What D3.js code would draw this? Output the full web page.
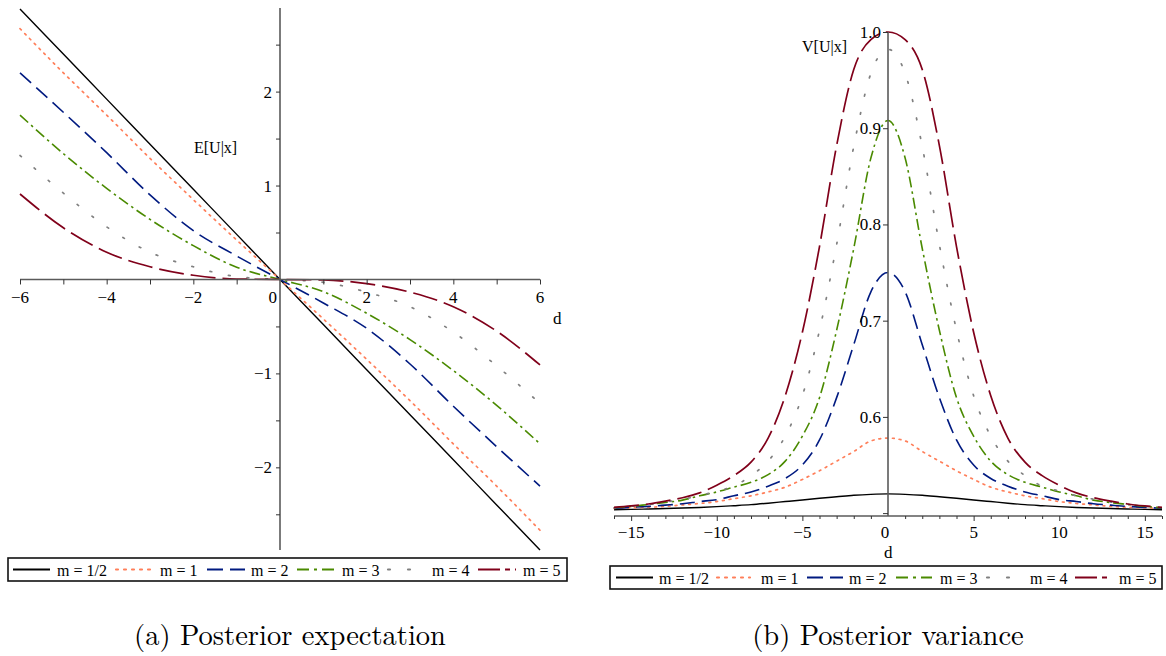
<!DOCTYPE html>
<html><head><meta charset="utf-8">
<script src="https://cdn.jsdelivr.net/npm/d3@7"></script>
<style>
html,body{margin:0;padding:0;background:#fff;}
</style></head>
<body><svg id="c" width="1166" height="656"></svg>
<script>
// ---------- data ----------
const legendLabels = ["m = 1/2","m = 1","m = 2","m = 3","m = 4","m = 5"];
const seriesColors = ["#000000","#ff7f5a","#001a80","#4a8a00","#808080","#80001a"];

// Posterior expectation E[U|x] vs d
const dE = [-6,-5,-4,-3,-2,-1,0,1,2,3,4,5,6];
const E_m05 = [2.88,2.40,1.92,1.44,0.96,0.48,0,-0.48,-0.96,-1.44,-1.92,-2.40,-2.88];
const E_m1  = [2.67,2.20,1.75,1.29,0.85,0.42,0,-0.42,-0.85,-1.29,-1.75,-2.20,-2.67];
const E_m2  = [2.20,1.78,1.35,0.90,0.52,0.25,0,-0.25,-0.52,-0.90,-1.35,-1.78,-2.20];
const E_m3  = [1.75,1.34,0.97,0.64,0.36,0.13,0,-0.13,-0.36,-0.64,-0.97,-1.34,-1.75];
const E_m4  = [1.32,0.92,0.56,0.29,0.135,0.03,0,-0.03,-0.135,-0.29,-0.56,-0.92,-1.32];
const E_m5  = [0.91,0.55,0.29,0.135,0.045,0.005,0,-0.005,-0.045,-0.135,-0.29,-0.55,-0.91];
const xTicksE = [-6,-4,-2,0,2,4,6];
const yTicksE = [-2,-1,1,2];

// Posterior variance V[U|x] vs d
const dV = [-16,-15,-14,-13,-12,-11,-10,-9,-8,-7,-6,-5,-4,-3,-2,-1,0,1,2,3,4,5,6,7,8,9,10,11,12,13,14,15,16];
const V_m05 = [0.5035,0.5039,0.5043,0.5048,0.5053,0.5059,0.5067,0.5077,0.5088,0.5103,0.512,0.5137,0.5155,0.517,0.5185,0.5195,0.520,0.5195,0.5185,0.517,0.5155,0.5137,0.512,0.5103,0.5088,0.5077,0.5067,0.5059,0.5053,0.5048,0.5043,0.5039,0.5035];
const V_m1  = [0.505,0.5055,0.506,0.507,0.5085,0.510,0.512,0.515,0.518,0.522,0.527,0.535,0.544,0.554,0.564,0.575,0.578,0.575,0.564,0.554,0.544,0.535,0.527,0.522,0.518,0.515,0.512,0.510,0.5085,0.507,0.506,0.5055,0.505];
const V_m2  = [0.505,0.506,0.507,0.5083,0.5097,0.512,0.514,0.518,0.522,0.528,0.536,0.550,0.576,0.620,0.675,0.730,0.750,0.730,0.675,0.620,0.576,0.550,0.536,0.528,0.522,0.518,0.514,0.512,0.5097,0.5083,0.507,0.506,0.505];
const V_m3  = [0.5055,0.507,0.509,0.511,0.5135,0.518,0.522,0.527,0.532,0.540,0.554,0.580,0.620,0.690,0.775,0.869,0.908,0.869,0.775,0.690,0.620,0.580,0.554,0.540,0.532,0.527,0.522,0.518,0.5135,0.511,0.509,0.507,0.5055];
const V_m4  = [0.5055,0.507,0.509,0.5115,0.5145,0.518,0.523,0.528,0.539,0.554,0.580,0.622,0.690,0.779,0.881,0.957,0.982,0.957,0.881,0.779,0.690,0.622,0.580,0.554,0.539,0.528,0.523,0.518,0.5145,0.5115,0.509,0.507,0.5055];
const V_m5  = [0.506,0.5075,0.5095,0.5125,0.516,0.521,0.529,0.539,0.553,0.578,0.622,0.688,0.777,0.882,0.961,0.992,1.000,0.992,0.961,0.882,0.777,0.688,0.622,0.578,0.553,0.539,0.529,0.521,0.516,0.5125,0.5095,0.5075,0.506];
const xTicksV = [-15,-10,-5,0,5,10,15];
const xMinorV = [-16,-14,-13,-12,-11,-9,-8,-7,-6,-4,-3,-2,-1,1,2,3,4,6,7,8,9,11,12,13,14,16];
const yTicksV = [0.5,0.6,0.7,0.8,0.9,1.0];
const yTickLabelsV = ["","0.6","0.7","0.8","0.9","1.0"];

const Eseries = [E_m05,E_m1,E_m2,E_m3,E_m4,E_m5];
const Vseries = [V_m05,V_m1,V_m2,V_m3,V_m4,V_m5];

// ---------- styles ----------
const dashes = [null, "1.8,5", "15,7", "11,4,2.5,4", "1.8,17", "25,7"];
const legDashes = [null, "2,6", "16,7", "12,5,3,5", "2,18", "22,5,5,5"];
const widths = [1.4,1.7,1.6,1.6,1.7,1.7];
const FONT = '"Liberation Serif"';
const CAPFONT = '"Latin Modern Roman"';

const svg = d3.select("#c");
const minus = s => String(s).replace("-", "\u2212");
function txt(g,x,y,size,s,anchor,fam){
  return g.append("text").attr("x",x).attr("y",y).attr("font-size",size)
    .style("font-family",fam||FONT).attr("text-anchor",anchor||"start").attr("fill","#000").text(s);
}

// ---------- left plot ----------
const xE = d3.scaleLinear().domain([-6,6]).range([20,540]);
const yE = d3.scaleLinear().domain([-2.88,2.89]).range([550,8]);
const gL = svg.append("g");

const lineE = d3.line().x((v,i)=>xE(dE[i])).y(v=>yE(v)).curve(d3.curveMonotoneX);
Eseries.forEach((s,k)=>{
  gL.append("path").attr("d",lineE(s)).attr("fill","none")
    .attr("stroke",seriesColors[k]).attr("stroke-width",widths[k])
    .attr("stroke-dasharray",dashes[k]).attr("stroke-linecap", (k===1||k===4)?"round":"butt");
});

gL.append("line").attr("x1",xE(-6)).attr("x2",xE(6)).attr("y1",yE(0)).attr("y2",yE(0)).attr("stroke","#5a5a5a").attr("stroke-width",1.6);
gL.append("line").attr("x1",xE(0)).attr("x2",xE(0)).attr("y1",yE(2.89)).attr("y2",yE(-2.88)).attr("stroke","#5a5a5a").attr("stroke-width",1.6);
const xAxE = d3.axisBottom(xE).tickValues(d3.range(-6,7,1).filter(v=>v!==0)).tickSize(5).tickFormat("");
const gxE = gL.append("g").attr("transform",`translate(0,${yE(0)})`).call(xAxE);
gxE.select(".domain").remove();
gxE.selectAll("line").attr("stroke","#333");
xTicksE.forEach(v=>{
  txt(gL, v===0 ? xE(0)-3 : xE(v), yE(0)+24, 17, minus(v), v===0?"end":"middle");
});
const yAxE = d3.axisLeft(yE).tickValues([-2.5,-2,-1.5,-1,-0.5,0.5,1,1.5,2,2.5]).tickSize(4).tickFormat("");
const gyE = gL.append("g").attr("transform",`translate(${xE(0)},0)`).call(yAxE);
gyE.select(".domain").remove();
gyE.selectAll("line").attr("stroke","#333");
yTicksE.forEach(v=>{ txt(gL, xE(0)-8, yE(v)+6, 17, minus(v), "end"); });
txt(gL,194,153,16,"E[U|x]");
txt(gL,553,324,17,"d");

// ---------- right plot ----------
const xV = d3.scaleLinear().domain([-16,16]).range([614,1162]);
const yV = d3.scaleLinear().domain([0.497,1.0]).range([516,32]);
const gR = svg.append("g");
const lineV = d3.line().x((v,i)=>xV(dV[i])).y(v=>yV(v)).curve(d3.curveMonotoneX);
Vseries.forEach((s,k)=>{
  gR.append("path").attr("d",lineV(s)).attr("fill","none")
    .attr("stroke",seriesColors[k]).attr("stroke-width",widths[k])
    .attr("stroke-dasharray",dashes[k]).attr("stroke-linecap", (k===1||k===4)?"round":"butt");
});
gR.append("line").attr("x1",xV(-16)).attr("x2",xV(16)).attr("y1",yV(0.497)).attr("y2",yV(0.497)).attr("stroke","#5a5a5a").attr("stroke-width",1.6);
gR.append("line").attr("x1",xV(0)).attr("x2",xV(0)).attr("y1",yV(1.0)).attr("y2",yV(0.497)).attr("stroke","#5a5a5a").attr("stroke-width",1.6);
const gxV = gR.append("g").attr("transform",`translate(0,${yV(0.497)})`)
  .call(d3.axisBottom(xV).tickValues(xTicksV.filter(v=>v!==0)).tickSize(5).tickFormat(""));
gxV.select(".domain").remove();
gxV.selectAll("line").attr("stroke","#333");
const gxVm = gR.append("g").attr("transform",`translate(0,${yV(0.497)})`)
  .call(d3.axisBottom(xV).tickValues(xMinorV).tickSize(3).tickFormat(""));
gxVm.select(".domain").remove();
gxVm.selectAll("line").attr("stroke","#333");
xTicksV.forEach(v=>{ txt(gR, v===0 ? xV(0)-3 : xV(v), yV(0.497)+22, 17, minus(v), "middle"); });
const gyV = gR.append("g").attr("transform",`translate(${xV(0)},0)`)
  .call(d3.axisLeft(yV).tickValues(yTicksV).tickSize(5).tickFormat(""));
gyV.select(".domain").remove();
gyV.selectAll("line").attr("stroke","#333");
yTicksV.forEach((v,i)=>{ txt(gR, xV(0)-7, yV(v)+6, 17, yTickLabelsV[i], "end"); });
txt(gR,802,52,16,"V[U|x]");
txt(gR,884,558,17,"d");

// ---------- legends ----------
function legend(x0,y0,w,h,items){
  const g = svg.append("g");
  g.append("rect").attr("x",x0).attr("y",y0).attr("width",w).attr("height",h)
    .attr("fill","#fff").attr("stroke","#111").attr("stroke-width",1.6);
  items.forEach((it,k)=>{
    g.append("line").attr("x1",it.l1).attr("x2",it.l2).attr("y1",y0+h/2).attr("y2",y0+h/2)
      .attr("stroke",seriesColors[k]).attr("stroke-width",2.2)
      .attr("stroke-dasharray",legDashes[k]).attr("stroke-linecap",(k===1||k===4)?"round":"butt");
    txt(g,it.t,y0+h/2+6,16,legendLabels[k]);
  });
}
legend(8,558,559,23,[
  {l1:13,l2:50,t:57},{l1:116,l2:150,t:160},{l1:207,l2:245,t:251},
  {l1:297,l2:334,t:342},{l1:388,l2:410,t:432},{l1:478,l2:516,t:523}]);
legend(610,566,552,23,[
  {l1:616,l2:653,t:659},{l1:717,l2:750,t:761},{l1:807,l2:843,t:849},
  {l1:896,l2:932,t:940},{l1:987,l2:1009,t:1030},{l1:1075,l2:1112,t:1119}]);

// ---------- captions ----------
txt(svg,290,645,28.5,"(a) Posterior expectation","middle",CAPFONT);
txt(svg,888,645,28.5,"(b) Posterior variance","middle",CAPFONT);
</script></body></html>
